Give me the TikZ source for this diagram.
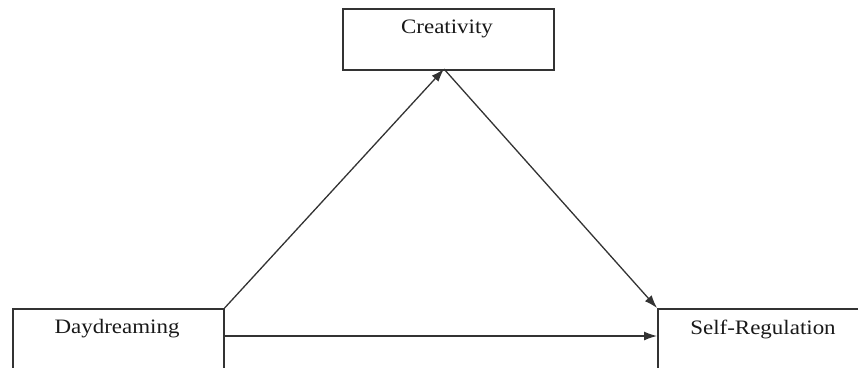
\documentclass[tikz,border=0pt]{standalone}
\usepackage{fontspec}
\setmainfont[FakeStretch=1.12]{Liberation Serif}
\usetikzlibrary{arrows.meta}
\definecolor{ln}{HTML}{333333}
\begin{document}
\begin{tikzpicture}[x=1pt,y=-1pt,
  boxnode/.style={draw=ln,line width=1.6pt,inner sep=0pt,anchor=north west},
  txt/.style={font=\fontsize{20.5}{24}\selectfont,text=black!90,inner sep=0pt},
  conn/.style={draw=ln,line width=1.3pt,-{Latex[length=13pt,width=9pt]}}]
\useasboundingbox (0,0) rectangle (858,367);
\clip (0,0) rectangle (858,367);
\node[boxnode,minimum width=211pt,minimum height=61pt] (c) at (342,8) {};
\node[boxnode,minimum width=211pt,minimum height=80pt] (d) at (12,308) {};
\node[boxnode,minimum width=220pt,minimum height=80pt] (s) at (657,308) {};
\node[txt] (ct) at (447,29) {Creativity};
\node[txt] (dt) at (117,329) {Daydreaming};
\node[txt] (st) at (763,329) {Self-Regulation};
\coordinate (cb) at (444,69);
\coordinate (dr) at (223,336);
\coordinate (sl) at (657,336);
\draw[conn] (d.north east) -- (cb);
\draw[conn] (cb) -- (s.north west);
\draw[conn] (dr) -- (sl);
\end{tikzpicture}
\end{document}
